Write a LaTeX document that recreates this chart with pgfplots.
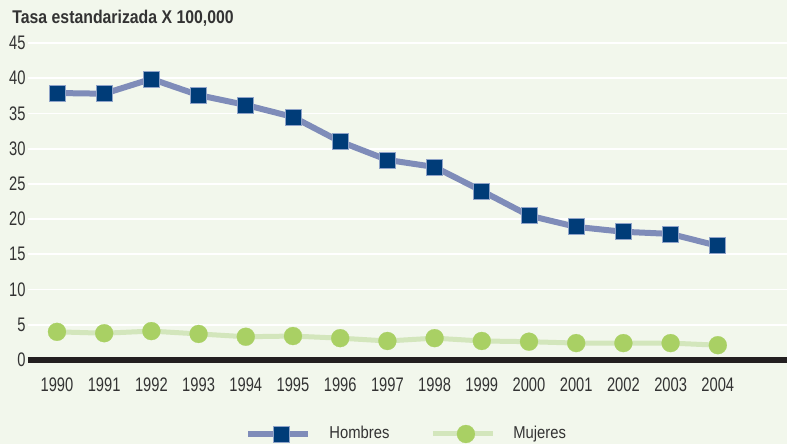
\documentclass[border=0pt]{standalone}
\usepackage{fontspec}
\usepackage{pgfplots}
\pgfplotsset{compat=1.18}
\setmainfont{Liberation Sans}
\newfontfamily\tickfont[FakeStretch=0.75]{Liberation Sans}
\newfontfamily\legfont[FakeStretch=0.86]{Liberation Sans}
\newfontfamily\titlefont[FakeStretch=0.86]{Liberation Sans}
\definecolor{bg}{HTML}{F2F7EC}
\definecolor{hline}{HTML}{7F8CB9}
\definecolor{hmark}{HTML}{003C78}
\definecolor{hedge}{HTML}{8FA3C8}
\definecolor{mline}{HTML}{D3E6BC}
\definecolor{mmark}{HTML}{A9D064}
\definecolor{txt}{HTML}{333333}
\definecolor{zeroline}{HTML}{231F20}
\begin{document}
\begin{tikzpicture}
\useasboundingbox[fill=bg] (-14pt,-42pt) rectangle (379.5pt,180pt);
\begin{axis}[
  name=ax, at={(0,0)}, anchor=south west,
  scale only axis, width=379.5pt, height=158.5pt,
  xmin=1989.386, xmax=2005.466, ymin=0, ymax=45,
  clip=false,
  axis line style={draw=none},
  major tick length=0pt,
  xtick={1990,1991,...,2004},
  xticklabels={1990,1991,1992,1993,1994,1995,1996,1997,1998,1999,2000,2001,2002,2003,2004},
  ytick={0,5,...,45},
  yticklabels={0,5,10,15,20,25,30,35,40,45},
  ymajorgrids,
  grid style={white, line width=0.9pt},
  tick label style={font=\tickfont\fontsize{9.8}{10}\selectfont, text=txt},
  yticklabel style={anchor=east, inner sep=0pt, xshift=-1pt},
  xticklabel style={anchor=base, inner sep=0pt, yshift=-16pt},
  legend columns=2,
  legend style={at={(0.2859,-0.2334)}, anchor=west, draw=none, fill=none,
    inner sep=0pt, font=\legfont\fontsize{8.6}{9}\selectfont, text=txt,
    /tikz/every odd column/.append style={column sep=7pt},
    /tikz/every even column/.append style={column sep=18.5pt}},
  legend image code/.code={\draw[mark repeat=2,mark phase=2,#1] plot coordinates {(0pt,0pt) (16.5pt,0pt) (30pt,0pt)};},
]
\draw[zeroline, line width=2.8pt] (axis cs:1989.386,0) -- (axis cs:2005.466,0);
\addplot[hline, line width=3pt, mark=square*, mark size=4pt,
  mark options={fill=hmark, draw=hedge, line width=0.4pt}]
  coordinates {(1990,37.9) (1991,37.8) (1992,39.9) (1993,37.6) (1994,36.2)
  (1995,34.5) (1996,31.0) (1997,28.4) (1998,27.4) (1999,24.0) (2000,20.5)
  (2001,18.9) (2002,18.2) (2003,17.9) (2004,16.2)};
\addlegendentry{Hombres}
\addplot[mline, line width=2.5pt, mark=*, mark size=4.5pt,
  mark options={fill=mmark, draw=mmark, line width=0.1pt}]
  coordinates {(1990,4.0) (1991,3.8) (1992,4.1) (1993,3.7) (1994,3.3)
  (1995,3.4) (1996,3.1) (1997,2.7) (1998,3.1) (1999,2.7) (2000,2.6)
  (2001,2.4) (2002,2.4) (2003,2.4) (2004,2.1)};
\addlegendentry{Mujeres}
\end{axis}
\node[anchor=base west, inner sep=0pt, text=txt, font=\titlefont\bfseries\fontsize{9.2}{10}\selectfont] at (-8pt,168pt) {Tasa estandarizada X 100,000};
\end{tikzpicture}
\end{document}
